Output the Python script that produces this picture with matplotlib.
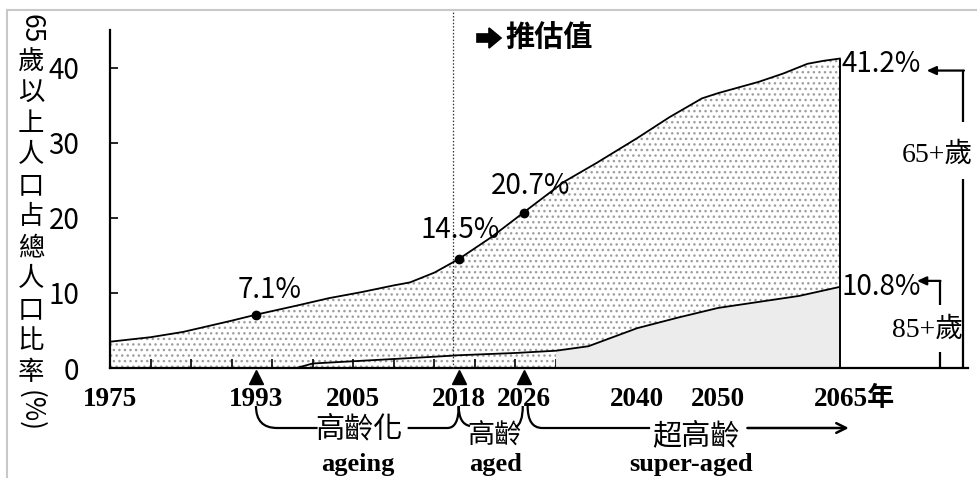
import matplotlib
matplotlib.use("Agg")
import numpy as np
import matplotlib.pyplot as plt
from matplotlib import transforms
from matplotlib.path import Path
from matplotlib.patches import PathPatch, Polygon
from matplotlib.lines import Line2D

# ---------------- data ----------------
years_65 = [1975, 1980, 1984, 1990, 1993, 1998, 2002, 2006, 2010, 2012, 2015, 2018,
            2022, 2026, 2031, 2035, 2040, 2044, 2048, 2050, 2055, 2058, 2061, 2063, 2065]
share_65 = [3.5, 4.1, 4.8, 6.3, 7.1, 8.3, 9.3, 10.1, 11.0, 11.4, 12.7, 14.5,
            17.4, 20.7, 24.8, 27.3, 30.6, 33.4, 35.9, 36.6, 38.1, 39.2, 40.5, 40.9, 41.2]

years_85 = [1998, 2000, 2005, 2010, 2015, 2018, 2025, 2030, 2034, 2040, 2045, 2050,
            2055, 2060, 2065]
share_85 = [0.0, 0.6, 0.9, 1.2, 1.5, 1.7, 2.0, 2.3, 2.9, 5.3, 6.7, 8.0, 8.8, 9.6, 10.8]

point_years = [1993, 2018, 2026]
point_values = [7.1, 14.5, 20.7]
point_labels = ["7.1%", "14.5%", "20.7%"]

end_year = 2065
end_65_label = "41.2%"
end_85_label = "10.8%"

xlabel_years = [1975, 1993, 2005, 2018, 2026, 2040, 2050]
xlabel_last = "2065年"
yticks = [0, 10, 20, 30, 40]
ylabel_top = "65"
ylabel_chars = list("歲以上人口占總人口比率")
ylabel_bottom = "(%)"
projection_start = 2017.3
projection_label = "推估值"

stages_zh = ["高齡化", "高齡", "超高齡"]
stages_en = ["ageing", "aged", "super-aged"]
group_labels = ["65+歲", "85+歲"]

# ---------------- figure ----------------
plt.rcParams["font.family"] = ["Noto Sans CJK TC", "DejaVu Sans"]
SERIF = ["Liberation Serif", "Noto Sans CJK TC"]
W, H = 978, 478
fig = plt.figure(figsize=(W / 100, H / 100), dpi=100)
ax = fig.add_axes([110 / W, 1 - 368 / H, (968 - 110) / W, (368 - 30) / H])
ax.set_xlim(1975, 2080.8)
ax.set_ylim(0, 45)

def fy(py):
    return 1 - py / H

blend = transforms.blended_transform_factory(ax.transData, fig.transFigure)

# fills
ax.fill_between(years_65, share_65, 0, facecolor="white", edgecolor="#9e9e9e",
                hatch="...", linewidth=0, zorder=1)
y85 = np.array(years_85)
s85 = np.array(share_85)
m = y85 >= 2030
ax.fill_between(y85[m], s85[m], 0, facecolor="#ececec", linewidth=0, zorder=2)

ax.plot(years_65, share_65, color="black", lw=1.3, zorder=4)
ax.plot(years_85, share_85, color="black", lw=1.3, zorder=4)
ax.vlines(end_year, 0, share_65[-1], color="black", lw=1.4, zorder=4)

# highlighted points
ax.plot(point_years, point_values, "o", color="black", ms=6, zorder=5)
offsets = [(10, 12), (1, 15), (5, 13)]
for x, v, lab, off in zip(point_years, point_values, point_labels, offsets):
    ax.annotate(lab, (x, v), xytext=off, textcoords="offset points",
                ha="center", va="baseline", fontsize=20, zorder=6)

ax.annotate(end_65_label, (end_year, share_65[-1]), xytext=(1, -10),
            textcoords="offset points", ha="left", va="baseline", fontsize=20)
ax.annotate(end_85_label, (end_year, share_85[-1]), xytext=(1, -6),
            textcoords="offset points", ha="left", va="baseline", fontsize=20)

# projection line + label
ax.axvline(projection_start, ymin=0, ymax=1.059, clip_on=False, color="#333333",
           lw=0.9, linestyle=(0, (1.2, 1.5)), zorder=3)
arrow_px = [(477, 34), (489, 34), (489, 28), (501, 38), (489, 48), (489, 42), (477, 42)]
fig.add_artist(Polygon([(x / W, fy(y)) for x, y in arrow_px], closed=True,
                       transform=fig.transFigure, facecolor="black",
                       edgecolor="black", lw=1.2))
fig.text(549 / W, fy(38), projection_label, fontsize=21, fontweight="bold",
         ha="center", va="center")

# spines and ticks
for s in ["top", "right"]:
    ax.spines[s].set_visible(False)
for s in ["left", "bottom"]:
    ax.spines[s].set_linewidth(1.6)
ax.set_xticks(range(1980, 2065, 5))
ax.set_xticklabels([])
ax.tick_params(axis="x", direction="in", length=6.5, width=1.2)
ax.set_yticks(yticks)
ax.set_yticklabels([str(t) for t in yticks])
ax.tick_params(axis="y", direction="in", length=6, width=1.2, labelsize=20, pad=22)

# x labels
for yr in xlabel_years:
    ax.text(yr, fy(406), str(yr), transform=blend, ha="center", va="baseline",
            fontsize=19.5, fontweight="bold", family=SERIF)
ax.annotate(xlabel_last, xy=(end_year, fy(406)), xycoords=blend, xytext=(-19, 0),
            textcoords="offset points", ha="left", va="baseline", fontsize=19.5,
            fontweight="bold", family=SERIF)

# triangles under stage years
ax.plot(point_years, [fy(377)] * 3, marker="^", ls="none", ms=10, color="black",
        transform=blend, clip_on=False)

# stage brackets
def bracket(verts, codes):
    p = PathPatch(Path([(x, fy(y)) for x, y in verts], codes), transform=blend,
                  fill=False, lw=1.6, edgecolor="black", clip_on=False)
    ax.add_patch(p)

M, C, L = Path.MOVETO, Path.CURVE3, Path.LINETO
bracket([(1993, 406), (1993, 428), (1995.6, 428), (2000.6, 428)], [M, C, C, L])
bracket([(2011.7, 428), (2016.6, 428), (2018, 428), (2018, 406),
         (2018, 424), (2019.4, 426)], [M, L, C, C, C, C])
bracket([(2025.0, 427), (2025.9, 424), (2025.9, 406)], [M, C, C])
bracket([(2026.5, 406), (2026.5, 428), (2028.3, 428), (2041.6, 428)], [M, C, C, L])
ax.annotate("", xy=(2066.1, fy(428)), xycoords=blend, xytext=(2053.6, fy(428)),
            textcoords=blend,
            arrowprops=dict(arrowstyle="->,head_length=0.7,head_width=0.35",
                            lw=1.8, color="black", shrinkA=0, shrinkB=0))

zh_pos = [(2005.7, 429, 21), (2022.4, 436, 19.5), (2047.2, 436, 21)]
for txt, (x, y, fs) in zip(stages_zh, zh_pos):
    ax.text(x, fy(y), txt, transform=blend, ha="center", va="center", fontsize=fs)
en_pos = [2005.6, 2022.5, 2046.6]
for txt, x in zip(stages_en, en_pos):
    ax.text(x, fy(471), txt, transform=blend, ha="center", va="baseline",
            fontsize=19, fontweight="bold", family="Liberation Serif")

# right-side brackets
def side_bracket(xv, ytop, gap_top, gap_bot, xhead):
    ax.plot([xv, xv], [ytop, gap_top], color="black", lw=1.6, solid_capstyle="butt")
    ax.plot([xv, xv], [gap_bot, 0], color="black", lw=1.6, solid_capstyle="butt")
    ax.annotate("", xy=(xhead, ytop), xytext=(xv + 0.1, ytop),
                arrowprops=dict(arrowstyle="-|>,head_length=0.55,head_width=0.25",
                                lw=1.6, color="black", shrinkA=0, shrinkB=0))

side_bracket(2080.2, 39.6, 32.8, 25.1, 2075.7)
side_bracket(2077.3, 11.6, 8.4, 2.1, 2074.5)
ax.text(2072.6, 28.4, group_labels[0], ha="left", va="center", fontsize=20,
        family=SERIF, clip_on=False)
ax.text(2071.4, 5.0, group_labels[1], ha="left", va="center", fontsize=20,
        family=SERIF, clip_on=False)

# vertical y label
fig.text(31 / W, fy(29), ylabel_top, rotation=-90, ha="center", va="center", fontsize=19)
for i, ch in enumerate(ylabel_chars):
    fig.text(31 / W, fy(62 + 31 * i), ch, ha="center", va="center", fontsize=19)
fig.text(31 / W, fy(411), ylabel_bottom, rotation=-90, ha="center", va="center",
         fontsize=19)

# picture frame
fig.add_artist(Line2D([8 / W, 1], [fy(10), fy(10)], color="#c8c8c8", lw=1.5,
                      transform=fig.transFigure))
fig.add_artist(Line2D([7 / W, 7 / W], [0, fy(10)], color="#c8c8c8", lw=1.5,
                      transform=fig.transFigure))

fig.savefig("out.png", dpi=100)
